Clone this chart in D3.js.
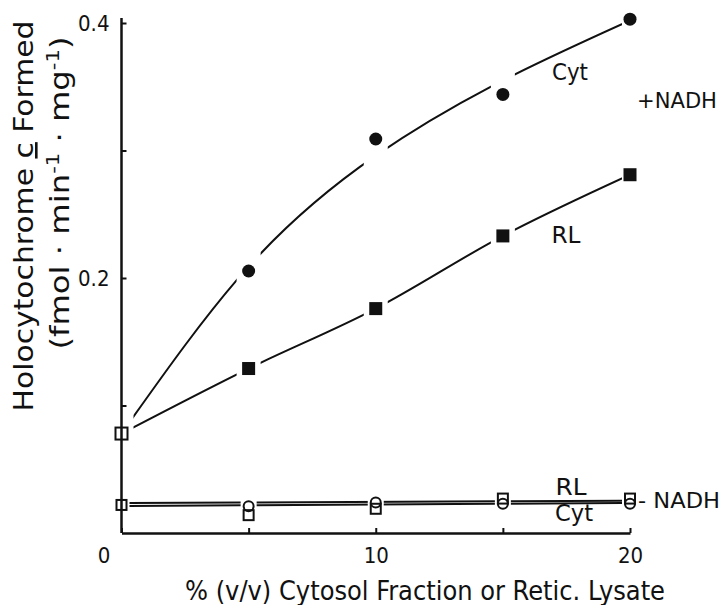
<!DOCTYPE html>
<html>
<head>
<meta charset="utf-8">
<script src="https://cdn.jsdelivr.net/npm/d3@7"></script>
<style>
    body { margin: 0; background: #fff; }
    svg { display: block; }
    text { font-family: "DejaVu Sans Condensed", "Liberation Sans Narrow", "DejaVu Sans", sans-serif; fill: #111; }
</style>
</head>
<body>
<svg id="chart" width="721" height="605"></svg>
<script>
// Holocytochrome c formation vs. % cytosol / reticulocyte lysate, +/- NADH
const pct = [0, 5, 10, 15, 20];
const cytPlus = [0.078, 0.2055, 0.309, 0.344, 0.403];
const rlPlus = [0.078, 0.129, 0.176, 0.233, 0.281];
const cytPlusFit = [0.078, 0.209, 0.296, 0.355, 0.402];
const cytMinus = [0.022, 0.021, 0.024, 0.023, 0.023];
const rlMinus = [0.022, 0.014, 0.019, 0.027, 0.027];
const fitEnds = [0, 20];
const cytMinusFit = [0.0212, 0.0235];
const rlMinusFit = [0.0235, 0.0254];
const xTicks = [0, 5, 10, 15, 20];
const xLabels = [0, 10, 20];
const yTicks = [0.1, 0.2, 0.3, 0.4];
const yLabels = [0.2, 0.4];

const ink = "#111";
const svg = d3.select("#chart");
const x = d3.scaleLinear().domain([0, 20]).range([121.5, 630]);
const y = d3.scaleLinear().domain([0, 0.4]).range([533, 23]);

const toPts = (xs, vals) => xs.map((p, i) => ({ p, v: vals[i] }));
const smooth = d3.line().x(d => x(d.p)).y(d => y(d.v)).curve(d3.curveNatural);
const straight = d3.line().x(d => x(d.p)).y(d => y(d.v)).curve(d3.curveMonotoneX);

// the drawn lines break a little before and after every data point
const defs = svg.append("defs");
const gapClip = (id, gap, endGap) => {
    defs.append("clipPath").attr("id", id)
        .selectAll("rect")
        .data(d3.pairs(pct))
        .join("rect")
        .attr("x", d => x(d[0]) + gap)
        .attr("width", (d, i) => x(d[1]) - x(d[0]) - gap - (i === pct.length - 2 ? endGap : gap))
        .attr("y", 0).attr("height", 605);
};
gapClip("gap-plus", 12, 8);
gapClip("gap-minus", 8, 8);

const gPlus = svg.append("g").attr("clip-path", "url(#gap-plus)");
const gMinus = svg.append("g").attr("clip-path", "url(#gap-minus)");
const gAxes = svg.append("g");
const gMarks = svg.append("g");
const gText = svg.append("g");

gPlus.append("path").datum(toPts(pct, cytPlusFit)).attr("d", smooth);
gPlus.append("path").datum(toPts(pct, rlPlus)).attr("d", straight);
gMinus.append("path").datum(toPts(fitEnds, rlMinusFit)).attr("d", straight);
gMinus.append("path").datum(toPts(fitEnds, cytMinusFit)).attr("d", straight);
svg.selectAll("g path").attr("fill", "none").attr("stroke", ink).attr("stroke-width", 2);

// axes
const xAxis = d3.axisBottom(x).tickValues(xTicks).tickSizeInner(-5).tickSizeOuter(0).tickPadding(14)
    .tickFormat(d => xLabels.includes(d) ? d3.format("d")(d) : "");
const yAxis = d3.axisLeft(y).tickValues(yTicks).tickSizeInner(-5).tickSizeOuter(0).tickPadding(12)
    .tickFormat(d => yLabels.includes(d) ? d.toFixed(1) : "");

const gx = gAxes.append("g").attr("transform", `translate(0,${y(0)})`).call(xAxis);
const gy = gAxes.append("g").attr("transform", `translate(${x(0)},0)`).call(yAxis);
gy.select(".domain").attr("d", `M0,${y(0)}V${y(0.4) - 5}`);
[gx, gy].forEach(g => {
    g.attr("font-family", null).attr("font-size", null);
    g.select(".domain").attr("stroke", ink).attr("stroke-width", 2.5);
    g.selectAll(".tick line").attr("stroke", ink).attr("stroke-width", 2);
    g.selectAll(".tick text").attr("fill", ink).style("font-size", "22px");
});
gx.selectAll(".tick text").filter(d => d === 0).attr("dx", -18);

// +NADH symbols
gMarks.selectAll("circle.cytPlus")
    .data(toPts(pct, cytPlus).slice(1))
    .join("circle").attr("class", "cytPlus")
    .attr("cx", d => x(d.p)).attr("cy", d => y(d.v)).attr("r", 6.5).attr("fill", ink);
gMarks.selectAll("rect.rlPlus")
    .data(toPts(pct, rlPlus).slice(1))
    .join("rect").attr("class", "rlPlus")
    .attr("x", d => x(d.p) - 6.5).attr("y", d => y(d.v) - 6.5)
    .attr("width", 13).attr("height", 13).attr("fill", ink);
// zero point shared by both +NADH curves
gMarks.selectAll("rect.zero")
    .data(toPts(pct, rlPlus).slice(0, 1))
    .join("rect").attr("class", "zero")
    .attr("x", d => x(d.p) - 6).attr("y", d => y(d.v) - 6)
    .attr("width", 12).attr("height", 12)
    .attr("fill", "none").attr("stroke", ink).attr("stroke-width", 2);

// -NADH symbols
gMarks.selectAll("circle.cytMinus")
    .data(toPts(pct, cytMinus).slice(1))
    .join("circle").attr("class", "cytMinus")
    .attr("cx", d => x(d.p)).attr("cy", d => y(d.v)).attr("r", 5)
    .attr("fill", "none").attr("stroke", ink).attr("stroke-width", 2);
gMarks.selectAll("rect.rlMinus")
    .data(toPts(pct, rlMinus))
    .join("rect").attr("class", "rlMinus")
    .attr("x", d => x(d.p) - 5).attr("y", d => y(d.v) - 5)
    .attr("width", 10).attr("height", 10)
    .attr("fill", "none").attr("stroke", ink).attr("stroke-width", 2);

// series labels
const label = (tx, ty, str, size, anchor, len) => {
    const t = gText.append("text").attr("x", tx).attr("y", ty)
        .attr("text-anchor", anchor).style("font-size", size + "px").text(str);
    if (len) t.attr("textLength", len).attr("lengthAdjust", "spacingAndGlyphs");
    return t;
};
label(570, 80, "Cyt", 23, "middle", 36);
label(637, 108, "+NADH", 21, "start", 80);
label(566, 243, "RL", 23, "middle", 29);
label(571, 495, "RL", 23, "middle", 31);
label(574, 521, "Cyt", 23, "middle", 38);
label(638, 508, "- NADH", 21, "start", 82);

// axis titles
label(425, 600, "% (v/v)  Cytosol  Fraction  or  Retic. Lysate", 26, "middle", 480);

const t1 = gText.append("text")
    .attr("transform", "translate(33,216) rotate(-90)")
    .attr("text-anchor", "middle").style("font-size", "26px")
    .attr("textLength", 391).attr("lengthAdjust", "spacingAndGlyphs");
t1.append("tspan").text("Holocytochrome  ");
t1.append("tspan").style("text-decoration", "underline").text("c");
t1.append("tspan").text("  Formed");

const t2 = gText.append("text")
    .attr("transform", "translate(69,193) rotate(-90)")
    .attr("text-anchor", "middle").style("font-size", "26px")
    .attr("textLength", 313).attr("lengthAdjust", "spacingAndGlyphs");
t2.append("tspan").text("(fmol · min");
t2.append("tspan").attr("dy", -10).style("font-size", "17px").text("-1");
t2.append("tspan").attr("dy", 10).text(" · mg");
t2.append("tspan").attr("dy", -10).style("font-size", "17px").text("-1");
t2.append("tspan").attr("dy", 10).text(")");
</script>
</body>
</html>
